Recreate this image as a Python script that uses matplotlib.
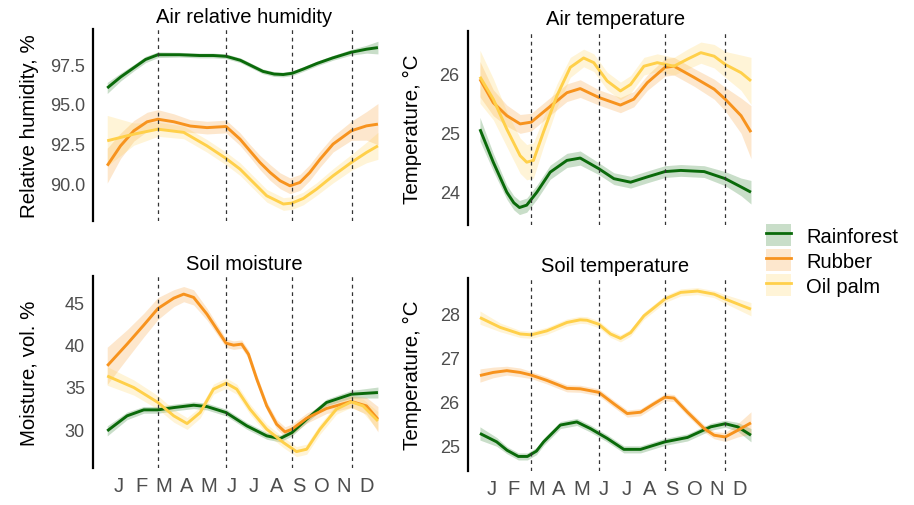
import matplotlib
matplotlib.use("Agg")
import matplotlib.pyplot as plt
from matplotlib.patches import Patch
from matplotlib.lines import Line2D
from matplotlib.legend_handler import HandlerTuple

plt.rcParams['font.family'] = ['Liberation Sans', 'DejaVu Sans']

months = ['J', 'F', 'M', 'A', 'M', 'J', 'J', 'A', 'S', 'O', 'N', 'D']
season_breaks = [2.76, 5.76, 8.69, 11.34]
land_uses = ['Rainforest', 'Rubber', 'Oil palm']
line_colors = ['#0a6a0a', '#f7931e', '#ffd04a']

# --- Air relative humidity ---
rh_rain_x = [0.5, 1.1, 1.7, 2.2, 2.75, 3.7, 4.6, 5.2, 5.77, 6.4, 6.9, 7.4, 7.9, 8.3, 8.7, 9.2, 9.8, 10.5, 11.3, 12.0, 12.5]
rh_rain_y = [96.0, 96.7, 97.3, 97.8, 98.1, 98.1, 98.05, 98.05, 98.0, 97.75, 97.4, 97.05, 96.88, 96.85, 96.93, 97.2, 97.55, 97.9, 98.25, 98.45, 98.55]
rh_rain_se = [0.35, 0.25, 0.2, 0.2, 0.18, 0.15, 0.15, 0.15, 0.15, 0.15, 0.15, 0.15, 0.15, 0.15, 0.15, 0.15, 0.15, 0.15, 0.18, 0.25, 0.4]
rh_rub_x = [0.5, 1.09, 1.68, 2.27, 2.75, 3.45, 4.18, 4.92, 5.77, 6.39, 6.83, 7.27, 7.72, 8.16, 8.6, 9.04, 9.48, 9.93, 10.51, 11.32, 11.99, 12.5]
rh_rub_y = [91.1, 92.35, 93.3, 93.87, 94.03, 93.87, 93.6, 93.5, 93.57, 92.77, 92.03, 91.3, 90.67, 90.15, 89.83, 90.04, 90.67, 91.5, 92.46, 93.3, 93.61, 93.72]
rh_rub_se = [1.1, 0.8, 0.65, 0.6, 0.6, 0.5, 0.4, 0.4, 0.4, 0.4, 0.4, 0.45, 0.5, 0.5, 0.5, 0.5, 0.5, 0.5, 0.5, 0.6, 0.9, 1.3]
rh_oil_x = [0.5, 1.68, 2.75, 3.89, 4.92, 5.77, 6.39, 6.83, 7.57, 8.31, 8.69, 9.19, 9.78, 10.51, 11.32, 11.99, 12.5]
rh_oil_y = [92.67, 93.09, 93.4, 93.2, 92.35, 91.55, 90.88, 90.25, 89.2, 88.68, 88.74, 89.03, 89.62, 90.46, 91.3, 91.93, 92.35]
rh_oil_se = [1.6, 0.7, 0.45, 0.4, 0.4, 0.4, 0.4, 0.4, 0.4, 0.4, 0.4, 0.4, 0.4, 0.45, 0.5, 0.65, 0.85]

# --- Air temperature ---
at_rain_x = [0.5, 1.09, 1.69, 2.0, 2.25, 2.57, 3.02, 3.61, 4.35, 4.94, 5.76, 6.43, 7.17, 7.91, 8.69, 9.39, 10.43, 11.36, 12.06, 12.5]
at_rain_y = [25.05, 24.49, 23.98, 23.8, 23.72, 23.76, 23.98, 24.32, 24.52, 24.56, 24.38, 24.21, 24.15, 24.24, 24.33, 24.35, 24.33, 24.21, 24.07, 23.98]
at_rain_se = [0.2, 0.15, 0.12, 0.12, 0.12, 0.12, 0.12, 0.12, 0.12, 0.12, 0.1, 0.1, 0.1, 0.1, 0.1, 0.1, 0.1, 0.12, 0.15, 0.2]
at_rub_x = [0.5, 1.09, 1.69, 2.28, 2.77, 3.46, 4.35, 4.94, 5.76, 6.72, 7.31, 7.91, 8.69, 9.09, 9.98, 10.87, 11.36, 12.06, 12.5]
at_rub_y = [25.9, 25.5, 25.28, 25.14, 25.17, 25.39, 25.67, 25.74, 25.59, 25.46, 25.56, 25.84, 26.1, 26.12, 25.93, 25.73, 25.56, 25.28, 25.0]
at_rub_se = [0.3, 0.22, 0.18, 0.16, 0.15, 0.15, 0.15, 0.15, 0.13, 0.13, 0.13, 0.13, 0.15, 0.15, 0.15, 0.17, 0.2, 0.3, 0.45]
at_oil_x = [0.5, 1.09, 1.69, 2.28, 2.57, 2.87, 3.31, 3.91, 4.5, 5.09, 5.54, 6.13, 6.72, 7.17, 7.76, 8.35, 9.09, 9.69, 10.28, 10.87, 11.36, 12.06, 12.5]
at_oil_y = [25.94, 25.56, 25.05, 24.6, 24.49, 24.52, 25.0, 25.62, 26.1, 26.26, 26.18, 25.87, 25.7, 25.81, 26.12, 26.18, 26.12, 26.24, 26.35, 26.29, 26.15, 26.01, 25.87]
at_oil_se = [0.45, 0.35, 0.3, 0.3, 0.3, 0.3, 0.25, 0.2, 0.17, 0.15, 0.15, 0.15, 0.15, 0.15, 0.15, 0.15, 0.15, 0.17, 0.18, 0.2, 0.22, 0.3, 0.4]

# --- Soil moisture ---
sm_rain_x = [0.5, 1.38, 2.12, 2.75, 3.45, 4.33, 4.92, 5.77, 6.69, 7.57, 8.16, 8.69, 9.34, 10.22, 11.32, 12.5]
sm_rain_y = [29.8, 31.58, 32.29, 32.29, 32.56, 32.84, 32.68, 31.97, 30.39, 29.21, 28.89, 29.6, 31.18, 33.16, 34.14, 34.34]
sm_rain_se = [0.6, 0.45, 0.4, 0.4, 0.4, 0.4, 0.4, 0.4, 0.4, 0.4, 0.4, 0.4, 0.4, 0.4, 0.45, 0.65]
sm_rub_x = [0.5, 1.38, 2.12, 2.75, 3.45, 3.89, 4.33, 4.92, 5.36, 5.77, 6.1, 6.46, 6.76, 7.13, 7.57, 8.01, 8.38, 8.69, 9.34, 10.22, 11.32, 11.99, 12.5]
sm_rub_y = [37.5, 40.07, 42.32, 44.29, 45.51, 45.99, 45.6, 43.62, 41.84, 40.18, 39.95, 40.07, 38.88, 35.92, 32.76, 30.59, 29.68, 30.0, 31.3, 32.45, 33.28, 32.76, 31.18]
sm_rub_se = [2.2, 1.7, 1.4, 1.3, 1.0, 0.9, 0.9, 0.7, 0.6, 0.5, 0.5, 0.5, 0.5, 0.5, 0.5, 0.55, 0.6, 0.6, 0.6, 0.6, 0.7, 1.0, 1.5]
sm_oil_x = [0.5, 1.68, 2.75, 3.45, 4.04, 4.62, 5.21, 5.77, 6.24, 6.83, 7.57, 8.31, 8.89, 9.34, 9.93, 10.66, 11.32, 11.84, 12.5]
sm_oil_y = [36.3, 34.93, 33.16, 31.58, 30.67, 31.97, 34.74, 35.45, 34.74, 32.37, 30.0, 28.42, 27.35, 27.63, 30.0, 32.37, 33.24, 32.76, 30.98]
sm_oil_se = [1.1, 0.9, 0.8, 0.75, 0.7, 0.65, 0.6, 0.6, 0.6, 0.6, 0.6, 0.6, 0.6, 0.6, 0.6, 0.6, 0.65, 0.8, 1.1]

# --- Soil temperature ---
st_rain_x = [0.5, 1.24, 1.7, 2.2, 2.6, 3.0, 3.32, 4.06, 4.79, 5.39, 6.13, 6.87, 7.61, 8.69, 9.69, 10.72, 11.36, 11.91, 12.5]
st_rain_y = [25.28, 25.09, 24.9, 24.76, 24.76, 24.88, 25.09, 25.47, 25.54, 25.39, 25.17, 24.92, 24.92, 25.09, 25.19, 25.43, 25.5, 25.43, 25.24]
st_rain_se = [0.15, 0.1, 0.08, 0.08, 0.08, 0.08, 0.08, 0.08, 0.08, 0.08, 0.08, 0.08, 0.08, 0.08, 0.08, 0.08, 0.08, 0.1, 0.15]
st_rub_x = [0.5, 1.09, 1.69, 2.28, 2.77, 3.46, 4.35, 4.94, 5.76, 6.43, 7.02, 7.61, 8.2, 8.69, 9.09, 9.69, 10.43, 10.87, 11.36, 11.91, 12.5]
st_rub_y = [26.59, 26.66, 26.7, 26.66, 26.6, 26.48, 26.3, 26.29, 26.21, 25.95, 25.73, 25.76, 25.95, 26.1, 26.08, 25.76, 25.39, 25.24, 25.2, 25.35, 25.52]
st_rub_se = [0.15, 0.12, 0.1, 0.1, 0.08, 0.08, 0.08, 0.08, 0.08, 0.08, 0.08, 0.08, 0.08, 0.08, 0.08, 0.08, 0.08, 0.08, 0.1, 0.15, 0.25]
st_oil_x = [0.5, 1.39, 2.28, 2.77, 3.46, 4.35, 4.94, 5.24, 5.76, 6.28, 6.72, 7.17, 7.76, 8.69, 9.39, 10.13, 10.87, 11.36, 12.5]
st_oil_y = [27.9, 27.68, 27.53, 27.51, 27.6, 27.79, 27.85, 27.84, 27.75, 27.53, 27.43, 27.56, 27.94, 28.32, 28.47, 28.5, 28.43, 28.32, 28.09]
st_oil_se = [0.15, 0.1, 0.08, 0.08, 0.08, 0.08, 0.08, 0.08, 0.08, 0.08, 0.08, 0.08, 0.08, 0.08, 0.08, 0.08, 0.08, 0.1, 0.15]

panels = [
    ("Air relative humidity", "Relative humidity, %", [87.6, 99.7], [90.0, 92.5, 95.0, 97.5], ["90.0", "92.5", "95.0", "97.5"],
     [(rh_rain_x, rh_rain_y, rh_rain_se), (rh_rub_x, rh_rub_y, rh_rub_se), (rh_oil_x, rh_oil_y, rh_oil_se)]),
    ("Air temperature", "Temperature, \u00b0C", [23.42, 26.72], [24, 25, 26], ["24", "25", "26"],
     [(at_rain_x, at_rain_y, at_rain_se), (at_rub_x, at_rub_y, at_rub_se), (at_oil_x, at_oil_y, at_oil_se)]),
    ("Soil moisture", "Moisture, vol. %", [25.4, 48.1], [30, 35, 40, 45], ["30", "35", "40", "45"],
     [(sm_rain_x, sm_rain_y, sm_rain_se), (sm_rub_x, sm_rub_y, sm_rub_se), (sm_oil_x, sm_oil_y, sm_oil_se)]),
    ("Soil temperature", "Temperature, \u00b0C", [24.44, 28.8], [25, 26, 27, 28], ["25", "26", "27", "28"],
     [(st_rain_x, st_rain_y, st_rain_se), (st_rub_x, st_rub_y, st_rub_se), (st_oil_x, st_oil_y, st_oil_se)]),
]

# axes rectangles in figure fractions (left, bottom, width, height)
rects = [
    [0.102, 0.561, 0.330, 0.379],
    [0.512, 0.553, 0.322, 0.384],
    [0.102, 0.073, 0.330, 0.379],
    [0.512, 0.068, 0.322, 0.381],
]
xlims = [(-0.12, 13.25), (-0.03, 13.0), (-0.12, 13.25), (-0.03, 13.0)]
ylab_x = [-0.181, -0.156, -0.181, -0.156]

fig = plt.figure(figsize=(9.14, 5.06), dpi=100)

for i, (title, ylabel, ylim, yticks, ytlabels, series) in enumerate(panels):
    ax = fig.add_axes(rects[i])
    for (xs, ys, se), col in zip(series, line_colors):
        lo = [y - s for y, s in zip(ys, se)]
        hi = [y + s for y, s in zip(ys, se)]
        ax.fill_between(xs, lo, hi, color=col, alpha=0.22, lw=0)
    for (xs, ys, se), col in zip(series, line_colors):
        ax.plot(xs, ys, color=col, lw=2.1, solid_joinstyle='round', solid_capstyle='butt')
    for b in season_breaks:
        ax.axvline(b, color='#333333', lw=0.9, ls=(0, (3, 3)))
    ax.set_xlim(xlims[i])
    ax.set_ylim(ylim)
    ax.set_yticks(yticks)
    ax.set_yticklabels(ytlabels)
    ax.tick_params(axis='y', length=0, pad=6, labelsize=13, labelcolor='#4d4d4d')
    if i >= 2:
        ax.set_xticks(range(1, 13))
        ax.set_xticklabels(months)
        ax.tick_params(axis='x', length=0, pad=6, labelsize=14.5, labelcolor='#4d4d4d')
    else:
        ax.set_xticks([])
    for side in ['top', 'right', 'bottom']:
        ax.spines[side].set_visible(False)
    ax.spines['left'].set_linewidth(1.6)
    ax.set_title(title, fontsize=14.5, pad=5)
    ax.set_ylabel(ylabel, fontsize=14.8)
    ax.yaxis.set_label_coords(ylab_x[i], 0.5)

handles = []
for col in line_colors:
    handles.append((Patch(facecolor=col, alpha=0.22, lw=0), Line2D([], [], color=col, lw=2.0)))
fig.legend(handles, land_uses, loc='center left', bbox_to_anchor=(0.838, 0.484),
           frameon=False, fontsize=14.5, handlelength=1.25, handleheight=1.3,
           labelspacing=0.15, handletextpad=0.75, borderpad=0.0, borderaxespad=0.0,
           handler_map={tuple: HandlerTuple(ndivide=1, pad=0)})

fig.savefig("out.png", dpi=100)
